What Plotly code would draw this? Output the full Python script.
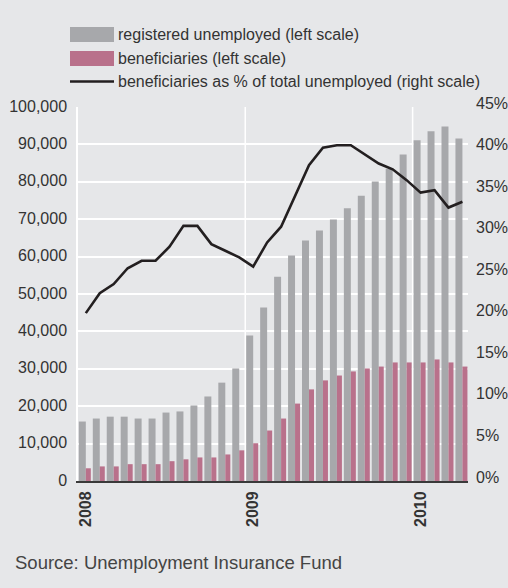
import plotly.graph_objects as go

# ---------------- data ----------------
months = [f"{m} {y}" for y in (2008, 2009, 2010) for m in
          ("Jan", "Feb", "Mar", "Apr", "May", "Jun", "Jul", "Aug", "Sep", "Oct", "Nov", "Dec")][:28]

registered = [15900, 16700, 17200, 17200, 16700, 16700, 18300, 18600, 20200, 22600, 26300, 30100,
              38900, 46400, 54600, 60300, 64300, 67000, 69900, 72900, 76300, 80100, 83500, 87300,
              91100, 93500, 94800, 91600]

beneficiaries = [3400, 3900, 3900, 4500, 4500, 4500, 5300, 5800, 6300, 6300, 7100, 8200,
                 10100, 13500, 16700, 20700, 24500, 26900, 28200, 29300, 30100, 30600, 31700, 31700,
                 31700, 32500, 31700, 30600]

share_pct = [20.2, 22.6, 23.7, 25.6, 26.5, 26.5, 28.2, 30.7, 30.7, 28.5, 27.7, 26.9,
             25.8, 28.7, 30.6, 34.2, 38.0, 40.1, 40.4, 40.4, 39.3, 38.2, 37.5, 36.2,
             34.7, 35.0, 32.9, 33.6]

left_ticks = [0, 10000, 20000, 30000, 40000, 50000, 60000, 70000, 80000, 90000, 100000]
right_ticks = [0, 5, 10, 15, 20, 25, 30, 35, 40, 45]
right_tick_text = [f"{v}%" for v in right_ticks]

legend_labels = ["registered unemployed (left scale)",
                 "beneficiaries (left scale)",
                 "beneficiaries as % of total unemployed (right scale)"]
source_text = "Source: Unemployment Insurance Fund"

# ---------------- styling ----------------
BG = "#e6e7e9"
GREY = "#a7a8ab"
PINK = "#b9718b"
LINE = "#231f20"
TXT = "#333333"
FONT = "Liberation Sans, Arial, Helvetica, sans-serif"

W, H = 508, 588
L, R, T, B = 78, 40, 107, 107
PW, PH = W - L - R, H - T - B


def px(x):
    return (x - L) / PW


def py(y):
    return (H - B - y) / PH


x_idx = list(range(len(months)))
jan_idx = [i for i, m in enumerate(months) if m.startswith("Jan")]
year_text = [months[i].split()[1] for i in jan_idx]

fig = go.Figure()
fig.add_trace(go.Bar(x=x_idx, y=registered, name=legend_labels[0], marker_color=GREY,
                     marker_line_width=0, width=0.5, offset=-0.5))
fig.add_trace(go.Bar(x=x_idx, y=beneficiaries, name=legend_labels[1], marker_color=PINK,
                     marker_line_width=0, width=0.36, offset=0))
fig.add_trace(go.Scatter(x=x_idx, y=share_pct, name=legend_labels[2], mode="lines",
                         line=dict(color=LINE, width=2.6), yaxis="y2"))

shapes = []
# vertical year separators (just before each January except the first)
for i in jan_idx[1:]:
    shapes.append(dict(type="line", xref="x", yref="paper", x0=i - 0.57, x1=i - 0.57,
                       y0=0, y1=1, line=dict(color="white", width=1.5), layer="below"))

# manual legend
rows_y = [34.5, 58.5, 81.5]
sw_x0, sw_x1 = 70, 114
shapes.append(dict(type="rect", xref="paper", yref="paper", x0=px(sw_x0), x1=px(sw_x1),
                   y0=py(rows_y[0] - 7.5), y1=py(rows_y[0] + 7.5), fillcolor=GREY, line_width=0))
shapes.append(dict(type="rect", xref="paper", yref="paper", x0=px(sw_x0), x1=px(sw_x1),
                   y0=py(rows_y[1] - 7.5), y1=py(rows_y[1] + 7.5), fillcolor=PINK, line_width=0))
shapes.append(dict(type="line", xref="paper", yref="paper", x0=px(sw_x0), x1=px(sw_x1),
                   y0=py(rows_y[2]), y1=py(rows_y[2]), line=dict(color=LINE, width=2.6)))

annotations = []
for lab, yy in zip(legend_labels, rows_y):
    annotations.append(dict(text=lab, xref="paper", yref="paper", x=px(116), y=py(yy),
                            xanchor="left", yanchor="middle", showarrow=False,
                            font=dict(size=16, color=TXT, family=FONT)))
annotations.append(dict(text=source_text, xref="paper", yref="paper", x=px(13), y=py(562),
                        xanchor="left", yanchor="middle", showarrow=False,
                        font=dict(size=18.5, color="#444444", family=FONT)))

fig.update_layout(
    width=W, height=H,
    margin=dict(l=L, r=R, t=T, b=B, pad=0, autoexpand=False),
    paper_bgcolor=BG, plot_bgcolor=BG,
    barmode="overlay",
    showlegend=False,
    font=dict(family=FONT, size=16, color=TXT),
    shapes=shapes,
    annotations=annotations,
    xaxis=dict(range=[-0.56, 27.4], tickvals=jan_idx, ticktext=year_text,
               tickangle=-90, tickfont=dict(size=16, color=TXT, family=FONT, weight="bold"),
               showgrid=False, zeroline=False, ticks="", ticklabelstandoff=2,
               showline=True, linecolor="#3a3a3a", linewidth=2, fixedrange=True,
               automargin=False),
    yaxis=dict(range=[0, 100000], tickvals=left_ticks, tickformat=",d",
               showgrid=True, gridcolor="white", gridwidth=1.5, zeroline=False,
               showline=True, linecolor="white", linewidth=1.5, ticks="",
               ticklabelstandoff=6, ticklabelshift=-1, automargin=False,
               tickfont=dict(size=16, color=TXT, family=FONT)),
    yaxis2=dict(range=[0, 45], tickvals=right_ticks, ticktext=right_tick_text, overlaying="y",
                side="right", showgrid=False, zeroline=False, showline=False, ticks="",
                ticklabelstandoff=7, ticklabelshift=-4, automargin=False,
                tickfont=dict(size=16, color=TXT, family=FONT)),
)

fig.write_html("out.html", config={"displayModeBar": False},
               post_script="document.body.style.margin='0';document.body.style.overflow='hidden';")
